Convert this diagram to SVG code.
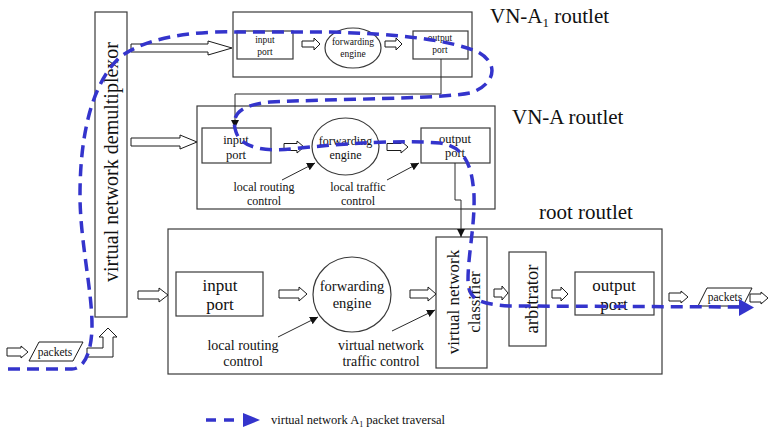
<svg xmlns="http://www.w3.org/2000/svg" width="768" height="429" viewBox="0 0 768 429">
  <style>
    .box { fill: #ffffff; stroke: #3a3a3a; stroke-width: 1.2; }
    .blk { fill: #ffffff; stroke: #1a1a1a; stroke-width: 1; stroke-linejoin: miter; }
    .ln { fill: none; stroke: #2a2a2a; stroke-width: 1; }
    .t { font-family: "Liberation Serif", "Times New Roman", serif; fill: #111111; text-anchor: middle; }
    .lbl { font-family: "Liberation Serif", "Times New Roman", serif; fill: #111111; }
    .trav { fill: none; stroke: #3434cc; stroke-width: 3.5; stroke-dasharray: 12 7; }
    .travhead { fill: #3434cc; }
  </style>
  <defs>
    <marker id="tip" markerUnits="userSpaceOnUse" markerWidth="9" markerHeight="9" refX="8" refY="4" orient="auto">
      <path d="M0,0 L8,4 L0,8 Z" fill="#111111"/>
    </marker>
  </defs>

  <rect width="768" height="429" fill="#ffffff"/>

  <!-- demultiplexer -->
  <g id="demux">
    <rect class="box" x="95" y="12" width="32" height="305"/>
    <text class="t" font-size="20" transform="translate(118,162) rotate(-90)">virtual network demultiplexor</text>
  </g>

  <!-- VN-A1 routlet -->
  <g id="vna1-routlet">
    <rect class="box" x="233" y="12" width="239" height="65"/>
    <text class="lbl" font-size="21" x="490" y="23">VN-A<tspan font-size="13" dy="4">1</tspan><tspan dy="-4"> routlet</tspan></text>
  </g>
  <g id="vna1-input">
    <rect class="box" x="237" y="31" width="56" height="28"/>
    <text class="t" font-size="9.5" x="265" y="43">input</text>
    <text class="t" font-size="9.5" x="265" y="55">port</text>
  </g>
  <g id="vna1-engine">
    <ellipse class="box" cx="353" cy="48" rx="28" ry="20"/>
    <text class="t" font-size="9.5" x="353" y="45">forwarding</text>
    <text class="t" font-size="9.5" x="353" y="57">engine</text>
  </g>
  <g id="vna1-output">
    <rect class="box" x="413" y="31" width="55" height="28"/>
    <text class="t" font-size="9.5" x="440" y="41">output</text>
    <text class="t" font-size="9.5" x="440" y="53">port</text>
  </g>

  <!-- VN-A routlet -->
  <g id="vna-routlet">
    <rect class="box" x="197" y="106" width="298" height="103"/>
    <text class="lbl" font-size="21" x="512" y="124">VN-A routlet</text>
  </g>
  <g id="vna-input">
    <rect class="box" x="202" y="128" width="69" height="35"/>
    <text class="t" font-size="12.5" x="236" y="144">input</text>
    <text class="t" font-size="12.5" x="236" y="158.5">port</text>
  </g>
  <g id="vna-engine">
    <ellipse class="box" cx="345.5" cy="146.5" rx="33.5" ry="28.5"/>
    <text class="t" font-size="12" x="345.5" y="144.5">forwarding</text>
    <text class="t" font-size="12" x="345.5" y="158.5">engine</text>
  </g>
  <g id="vna-output">
    <rect class="box" x="421" y="128" width="69" height="35"/>
    <text class="t" font-size="12.5" x="455" y="142.5">output</text>
    <text class="t" font-size="12.5" x="455" y="157">port</text>
  </g>
  <g id="vna-routing-ctl">
    <text class="t" font-size="12" x="264" y="190.5">local routing</text>
    <text class="t" font-size="12" x="264" y="205">control</text>
  </g>
  <g id="vna-traffic-ctl">
    <text class="t" font-size="12" x="358" y="190.5">local traffic</text>
    <text class="t" font-size="12" x="358" y="205">control</text>
  </g>

  <!-- root routlet -->
  <g id="root-routlet">
    <rect class="box" x="168" y="229" width="494" height="145"/>
    <text class="lbl" font-size="21" x="539" y="219">root routlet</text>
  </g>
  <g id="root-input">
    <rect class="box" x="176" y="272" width="87" height="44"/>
    <text class="t" font-size="17" x="220" y="291">input</text>
    <text class="t" font-size="17" x="220" y="310">port</text>
  </g>
  <g id="root-engine">
    <ellipse class="box" cx="352" cy="294.5" rx="39" ry="37.5"/>
    <text class="t" font-size="14.5" x="352" y="291">forwarding</text>
    <text class="t" font-size="14.5" x="352" y="308">engine</text>
  </g>
  <g id="root-classifier">
    <rect class="box" x="436" y="237" width="51" height="131"/>
    <text class="t" font-size="17" transform="translate(459,302) rotate(-90)">virtual network</text>
    <text class="t" font-size="17" transform="translate(480,302) rotate(-90)">classifier</text>
  </g>
  <g id="root-arbitrator">
    <rect class="box" x="509" y="252" width="37" height="94"/>
    <text class="t" font-size="18.5" transform="translate(538,299) rotate(-90)">arbitrator</text>
  </g>
  <g id="root-output">
    <rect class="box" x="575" y="272" width="79" height="43"/>
    <text class="t" font-size="17" x="614" y="291">output</text>
    <text class="t" font-size="17" x="614" y="310">port</text>
  </g>
  <g id="root-routing-ctl">
    <text class="t" font-size="14" x="243" y="350">local routing</text>
    <text class="t" font-size="14" x="243" y="366">control</text>
  </g>
  <g id="root-traffic-ctl">
    <text class="t" font-size="14" x="381" y="350">virtual network</text>
    <text class="t" font-size="14" x="381" y="366">traffic control</text>
  </g>

  <!-- packet symbols -->
  <g id="packets-in">
    <path class="blk" d="M39,342 L83,342 L73,361 L29,361 Z"/>
    <text class="t" font-size="11.5" x="55" y="356">packets</text>
  </g>
  <g id="packets-out">
    <path class="blk" d="M707,288 L752,288 L743,306 L698,306 Z"/>
    <text class="t" font-size="11.5" x="725" y="301">packets</text>
  </g>

  <!-- connectors -->
  <g id="connectors">
    <!-- block arrows -->
    <path class="blk" d="M131,44 L208,44 L208,41 L232,48 L208,55 L208,52 L131,52 Z"/>
    <path class="blk" d="M131,138 L180,138 L180,135 L197,142 L180,149 L180,146 L131,146 Z"/>
    <path class="blk" d="M138,291 L159,291 L159,288 L168,295 L159,302 L159,299 L138,299 Z"/>
    <path class="blk" d="M302,41 L314,41 L314,38 L320,44 L314,50 L314,47 L302,47 Z"/>
    <path class="blk" d="M385,41 L396,41 L396,38 L402,44 L396,50 L396,47 L385,47 Z"/>
    <path class="blk" d="M284,143.5 L297,143.5 L297,141 L304,147 L297,153 L297,150.5 L284,150.5 Z"/>
    <path class="blk" d="M387,143.5 L401,143.5 L401,141 L408,147 L401,153 L401,150.5 L387,150.5 Z"/>
    <path class="blk" d="M279,290 L299,290 L299,287 L307,294 L299,301 L299,298 L279,298 Z"/>
    <path class="blk" d="M410,290 L428,290 L428,287 L436,294 L428,301 L428,298 L410,298 Z"/>
    <path class="blk" d="M494,289 L502,289 L502,286 L508,293 L502,300 L502,297 L494,297 Z"/>
    <path class="blk" d="M552,290 L561,290 L561,287 L568,294 L561,301 L561,298 L552,298 Z"/>
    <path class="blk" d="M669,293 L681,293 L681,291 L688,297 L681,303 L681,301 L669,301 Z"/>
    <path class="blk" d="M750,294 L761,294 L761,292 L768,298 L761,304 L761,302 L750,302 Z"/>
    <path class="blk" d="M7,348 L21,348 L21,346 L28,352 L21,358 L21,356 L7,356 Z"/>
    <path class="blk" d="M87,348 L103,348 L103,337 L99,337 L108,328 L117,337 L113,337 L113,357 L87,357 Z"/>

    <!-- routlet-to-routlet links -->
    <path class="ln" marker-end="url(#tip)" d="M441,59 V94 H235 V128"/>
    <path class="ln" marker-end="url(#tip)" d="M455,163 V200 H461 V237"/>

    <!-- control inputs -->
    <path class="ln" marker-end="url(#tip)" d="M282,180 L315,163"/>
    <path class="ln" marker-end="url(#tip)" d="M387,180 L419,163"/>
    <path class="ln" marker-end="url(#tip)" d="M278,337 L318,317"/>
    <path class="ln" marker-end="url(#tip)" d="M392,331 L435,310"/>
  </g>

  <!-- packet traversal path for virtual network A1 -->
  <g id="traversal">
    <path class="trav" d="M8,369 H72 C84,369 92,352 92,325 C92,290 80,240 80,195 C80,140 90,85 120,57 C150,35 200,31 240,32 L330,32 C400,34 450,40 478,52 C500,64 495,85 470,93 C440,99 330,99 270,102 C240,105 230,115 236,132 C242,150 270,152 300,148 C350,143 400,140 440,143 C465,147 472,165 474,195 C475,225 468,255 468,280 C468,300 480,304 510,306 L740,307"/>
    <path class="travhead" d="M739,299 L754,307.5 L739,316 Z"/>
  </g>

  <!-- legend -->
  <g id="legend">
    <path class="trav" style="stroke-dasharray: 10 8" d="M206,420 H241"/>
    <path class="travhead" d="M243,413 L260,420 L243,427 Z"/>
    <text class="lbl" font-size="12.5" x="271" y="424">virtual network A<tspan font-size="8" dy="3">1</tspan><tspan dy="-3"> packet traversal</tspan></text>
  </g>
</svg>
